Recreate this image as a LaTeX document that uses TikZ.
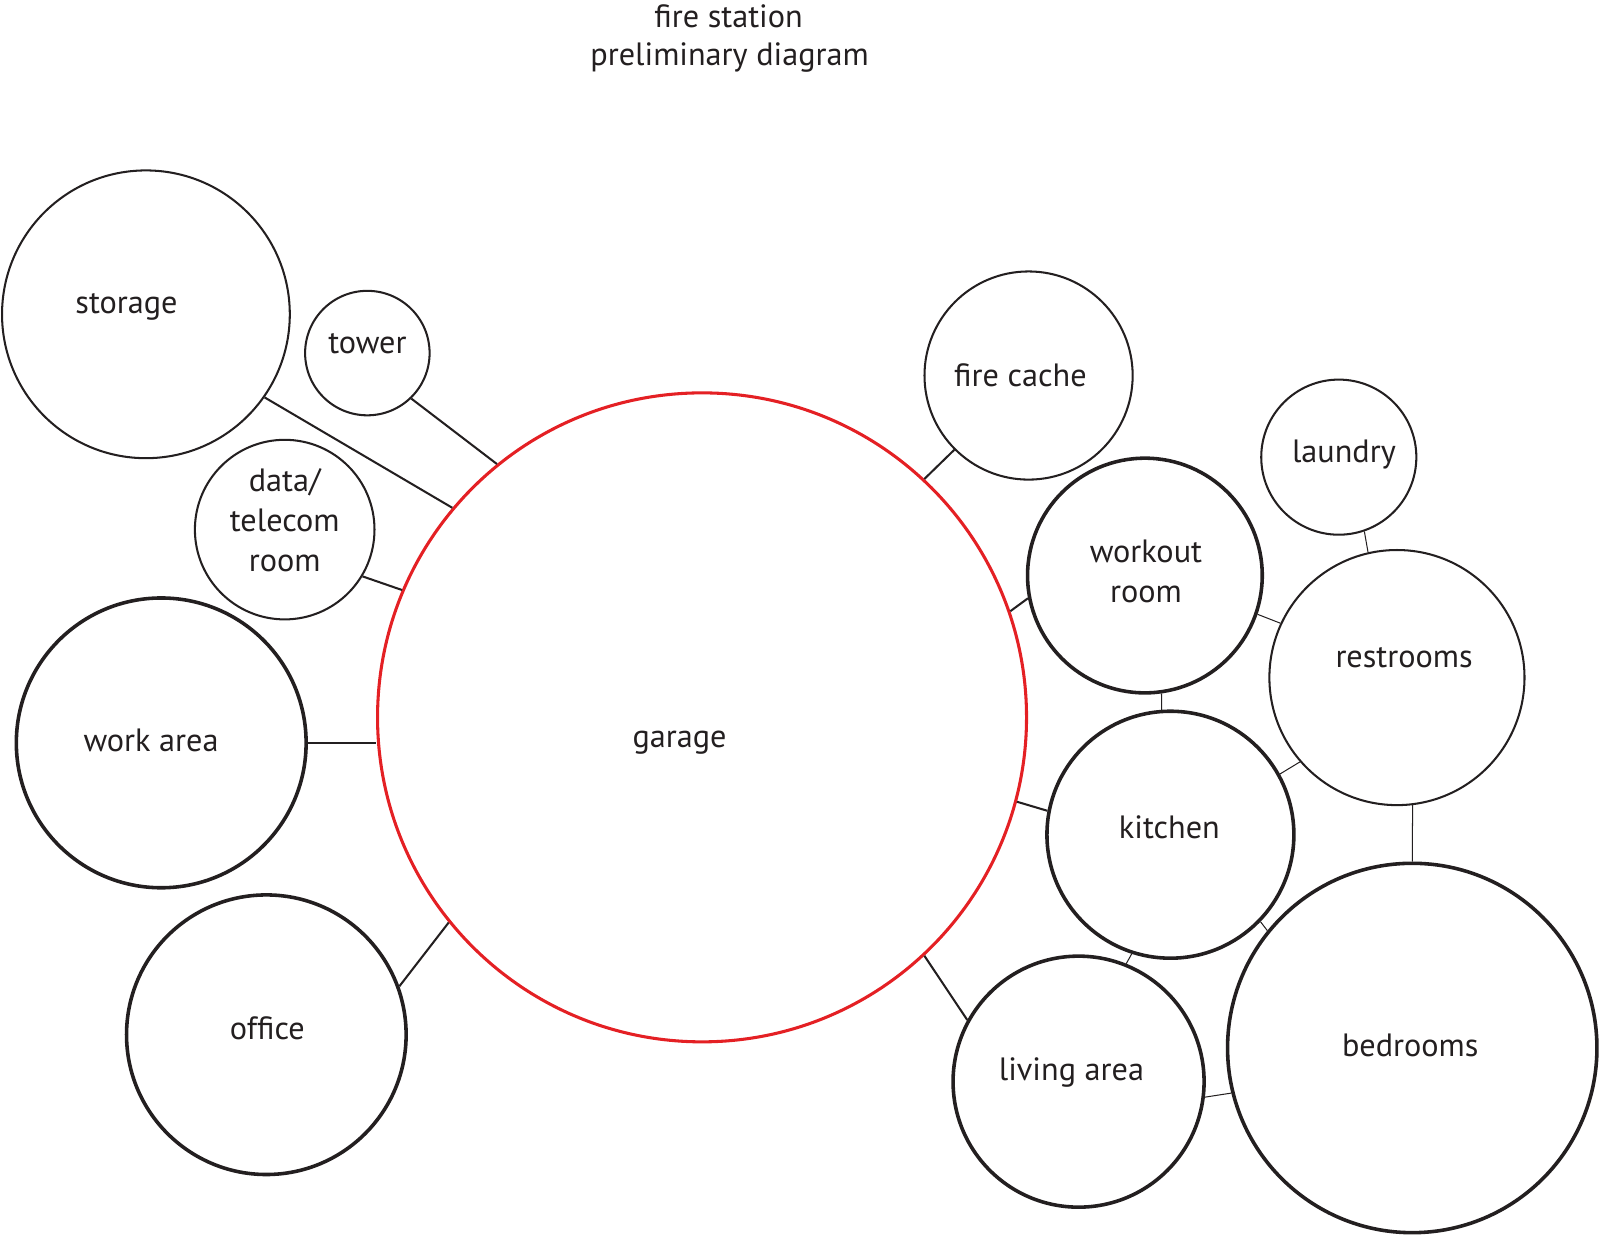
\documentclass[tikz,border=0pt]{standalone}
\usepackage{fontspec}
\setmainfont{PT Sans}

\definecolor{ink}{RGB}{35,31,32}
\definecolor{garagered}{RGB}{228,32,36}

\begin{document}
\begin{tikzpicture}[
    x=0.5pt, y=-0.5pt,
    font=\fontsize{15.8pt}{19.5pt}\selectfont,
    room/.style={circle, draw=ink, line width=1pt, inner sep=0pt},
    bigroom/.style={room, line width=1.75pt},
    hub/.style={circle, draw=garagered, line width=1.5pt, inner sep=0pt},
    lbl/.style={anchor=base, align=center, text=ink, inner sep=0pt},
    link/.style={draw=ink, line width=1pt},
    thinlink/.style={draw=ink, line width=0.5pt}
]
\useasboundingbox (0,0) rectangle (1568,1212);

%% ── Title ────────────────────────────────────────────────────────────────────
\node[lbl] (title1) at (714, 27) {fire station};
\node[lbl] (title2) at (715, 64) {preliminary diagram};

%% ── Garage (centre) ─────────────────────────────────────────────────────────
\node[hub, minimum size=318pt] (garage) at (688, 703) {};

%% ── Left wing ────────────────────────────────────────────────────────────────
\node[room,    minimum size=141pt] (storage) at (143,  308) {};
\node[room,    minimum size=61pt]  (tower)   at (360,  346) {};
\node[room,    minimum size=88pt]  (data)    at (279,  519) {};
\node[bigroom, minimum size=142pt] (work)    at (158,  728) {};
\node[bigroom, minimum size=137pt] (office)  at (261, 1014) {};

%% ── Right wing ───────────────────────────────────────────────────────────────
\node[room,    minimum size=102pt] (cache)     at (1008,  368) {};
\node[room,    minimum size=76pt]  (laundry)   at (1312,  448) {};
\node[bigroom, minimum size=115pt] (workout)   at (1122,  564) {};
\node[room,    minimum size=125pt] (restrooms) at (1369,  664) {};
\node[bigroom, minimum size=121pt] (kitchen)   at (1147,  818) {};
\node[bigroom, minimum size=123pt] (living)    at (1057, 1060) {};
\node[bigroom, minimum size=181pt] (bedrooms)  at (1384, 1027) {};

%% ── Labels ───────────────────────────────────────────────────────────────────
\node[lbl] (l_garage)    at (666,  733) {garage};
\node[lbl] (l_storage)   at (124,  307) {storage};
\node[lbl] (l_tower)     at (360,  346) {tower};
\node[lbl] (l_data)      at (279,  560) {data/\\telecom\\room};
\node[lbl] (l_work)      at (148,  736) {work area};
\node[lbl] (l_office)    at (262, 1019) {office};
\node[lbl] (l_cache)     at (1000, 379) {fire cache};
\node[lbl] (l_laundry)   at (1317, 453) {laundry};
\node[lbl] (l_workout)   at (1123, 590) {workout\\room};
\node[lbl] (l_restrooms) at (1376, 654) {restrooms};
\node[lbl] (l_kitchen)   at (1146, 822) {kitchen};
\node[lbl] (l_living)    at (1050,1059) {living area};
\node[lbl] (l_bedrooms)  at (1382,1035) {bedrooms};

%% ── Links to garage ──────────────────────────────────────────────────────────
\draw[link] (storage.-35.6) -- (garage.140.2);
\draw[link] (tower.-46.3)   -- (garage.129.6);
\draw[link] (data.-31.6)    -- (garage.157.4);
\draw[link] (work.east)     -- (work.east -| garage.west);
\draw[link] (office.20.2)   -- (garage.219.9);
\draw[link] (cache.225)     -- (garage.47.7);
\draw[link] (workout.191.8) -- (garage.19.8);
\draw[link] (kitchen.169)   -- (garage.-15);
\draw[link] (living.151.8)  -- (garage.-47.7);

%% ── Links between living quarters ───────────────────────────────────────────
\draw[thinlink] (laundry.-71.3)   -- (restrooms.103.7);
\draw[thinlink] (workout.-19.8)   -- (restrooms.155.3);
\draw[thinlink] (workout.-82.6)   -- (kitchen.94.3);
\draw[thinlink] (kitchen.29.3)    -- (restrooms.221.1);
\draw[thinlink] (restrooms.-83.2) -- (bedrooms.90);
\draw[thinlink] (kitchen.-44.7)   -- (bedrooms.141);
\draw[thinlink] (kitchen.252)     -- (living.68.5);
\draw[thinlink] (living.-7)       -- (bedrooms.194.3);

\end{tikzpicture}
\end{document}
